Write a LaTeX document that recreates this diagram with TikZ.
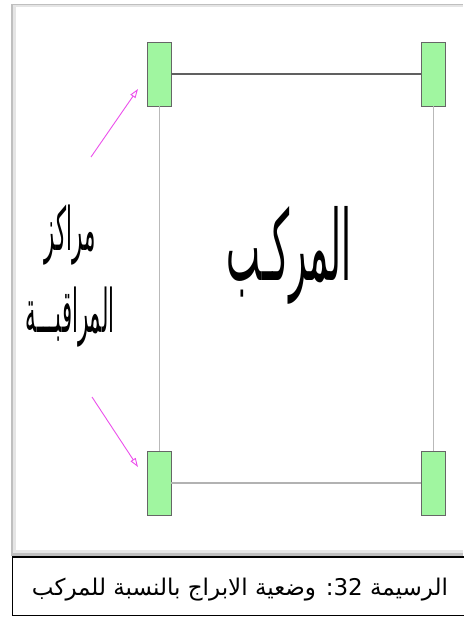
\documentclass[tikz,border=0pt]{standalone}
\usepackage{fontspec}
\newfontfamily\arabicfont[Script=Arabic]{DejaVu Sans}
\TeXXeTstate=1
\usetikzlibrary{arrows.meta}

\definecolor{towergreen}{RGB}{160,246,160}
\definecolor{pointerpink}{RGB}{236,80,236}

\begin{document}
\begin{tikzpicture}[
  x=1pt, y=-1pt,
  tower/.style={draw=gray!80!black, fill=towergreen, line width=0.8pt,
    minimum width=24pt, minimum height=64pt, inner sep=0pt},
  link/.style={line width=1.6pt, draw=gray!75!black},
  side/.style={line width=0.8pt, draw=gray!55},
  pointer/.style={-{Triangle[open, length=9pt, width=6pt]}, line width=0.9pt,
    draw=pointerpink},
  label/.style={font=\arabicfont, align=center, inner sep=0pt},
]
  \useasboundingbox (0,0) rectangle (463,617);

  % Frame of the figure, with its shadow
  \fill[gray!50] (11,4) rectangle (463,556);
  \fill[gray!20] (13,5) rectangle (463,553);
  \fill[white] (16,7) rectangle (463,550);

  % Towers
  \node[tower] (tl) at (159,74) {};
  \node[tower] (tr) at (433,74) {};
  \node[tower] (bl) at (159,483) {};
  \node[tower] (br) at (433,483) {};

  % Sides of the vessel
  \draw[link] (tl) -- (tr);
  \draw[link, draw=gray!60] (bl) -- (br);
  \draw[side] (tl) -- (bl);
  \draw[side] (tr) -- (br);

  % Vessel
  \node[label, font=\arabicfont\fontsize{75}{75}\selectfont, xscale=0.48,
    yscale=1.3, transform shape] (vessel) at (289,255) {\beginR المركـب\endR};

  % Control posts
  \node[label, font=\arabicfont\fontsize{40}{55}\selectfont, xscale=0.53,
    yscale=1.5, transform shape] (posts) at (70,276)
    {\beginR مراكز\endR\\\beginR المراقبـــة\endR};

  \coordinate (ptop) at (91,157);
  \coordinate (pbot) at (92,397);
  \coordinate (ttop) at (138,89);
  \coordinate (tbot) at (138,467);
  \draw[pointer] (ptop) -- (ttop);
  \draw[pointer] (pbot) -- (tbot);

  % Caption
  \draw[line width=1.2pt] (12.5,557) rectangle (470,615.5);
  \node[label, font=\arabicfont\fontsize{23}{26}\selectfont] (caption) at (240,590)
    {\beginR الرسيمة \beginL 32\endL: وضعية الابراج بالنسبة للمركب\endR};

\end{tikzpicture}
\end{document}
